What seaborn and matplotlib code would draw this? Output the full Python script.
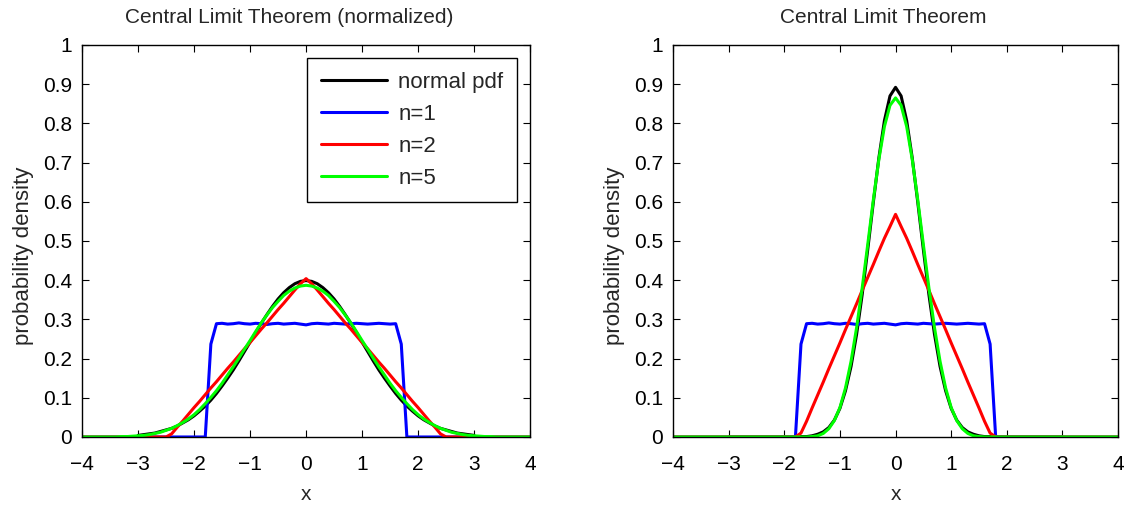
import numpy as np
import pandas as pd
import matplotlib
matplotlib.use('Agg')
import matplotlib.pyplot as plt
import seaborn as sns

# sample grids (step 0.1)
x_grid = np.round(np.arange(-40, 41) / 10, 1)
x_normal = np.round(np.arange(-30, 31) / 10, 1)

series_names = ['normal pdf', 'n=1', 'n=2', 'n=5']
series_colors = ['#000000', '#0000ff', '#ff0000', '#00ff00']
x_ticks = [-4, -3, -2, -1, 0, 1, 2, 3, 4]
y_ticks = [0, 0.1, 0.2, 0.3, 0.4, 0.5, 0.6, 0.7, 0.8, 0.9, 1]
y_tick_labels = ['0', '0.1', '0.2', '0.3', '0.4', '0.5', '0.6', '0.7', '0.8', '0.9', '1']

# ---- left panel: normalized ----
left_normal = [0.004, 0.006, 0.008, 0.010, 0.014, 0.018, 0.022, 0.028, 0.036, 0.044,
               0.054, 0.066, 0.079, 0.094, 0.111, 0.130, 0.150, 0.171, 0.194, 0.218,
               0.242, 0.266, 0.290, 0.312, 0.333, 0.352, 0.368, 0.381, 0.391, 0.397,
               0.399,
               0.397, 0.391, 0.381, 0.368, 0.352, 0.333, 0.312, 0.290, 0.266, 0.242,
               0.218, 0.194, 0.171, 0.150, 0.130, 0.111, 0.094, 0.079, 0.066, 0.054,
               0.044, 0.036, 0.028, 0.022, 0.018, 0.014, 0.010, 0.008, 0.006, 0.004]

left_n1 = [0, 0, 0, 0, 0, 0, 0, 0, 0, 0, 0, 0, 0, 0, 0, 0, 0, 0, 0, 0, 0, 0, 0,
           0.237,
           0.289, 0.290, 0.288, 0.289, 0.291, 0.289, 0.288, 0.290, 0.289, 0.287,
           0.289, 0.290, 0.288, 0.289, 0.290, 0.288, 0.286, 0.289, 0.290, 0.289,
           0.288, 0.290, 0.289, 0.288, 0.289, 0.290, 0.289, 0.288, 0.289, 0.290,
           0.289, 0.288, 0.289,
           0.237,
           0, 0, 0, 0, 0, 0, 0, 0, 0, 0, 0, 0, 0, 0, 0, 0, 0, 0, 0, 0, 0, 0, 0]

left_n2 = [0, 0, 0, 0, 0, 0, 0, 0, 0, 0, 0, 0, 0, 0, 0, 0,
           0.008, 0.025, 0.041, 0.058, 0.075, 0.091, 0.108, 0.125, 0.141, 0.158,
           0.175, 0.191, 0.208, 0.225, 0.241, 0.258, 0.275, 0.291, 0.308, 0.325,
           0.341, 0.358, 0.375, 0.391,
           0.404,
           0.391, 0.375, 0.358, 0.341, 0.325, 0.308, 0.291, 0.275, 0.258, 0.241,
           0.225, 0.208, 0.191, 0.175, 0.158, 0.141, 0.125, 0.108, 0.091, 0.075,
           0.058, 0.041, 0.025, 0.008,
           0, 0, 0, 0, 0, 0, 0, 0, 0, 0, 0, 0, 0, 0, 0, 0]

left_n5 = [0, 0, 0, 0, 0, 0, 0, 0.001, 0.001, 0.002,
           0.003, 0.004, 0.006, 0.009, 0.012, 0.017, 0.022, 0.029, 0.037, 0.046,
           0.057, 0.070, 0.085, 0.101, 0.118, 0.137, 0.158, 0.179, 0.201, 0.224,
           0.246, 0.269, 0.291, 0.311, 0.330, 0.346, 0.361, 0.372, 0.380, 0.385,
           0.387,
           0.385, 0.380, 0.372, 0.361, 0.346, 0.330, 0.311, 0.291, 0.269, 0.246,
           0.224, 0.201, 0.179, 0.158, 0.137, 0.118, 0.101, 0.085, 0.070, 0.057,
           0.046, 0.037, 0.029, 0.022, 0.017, 0.012, 0.009, 0.006, 0.004, 0.003,
           0.002, 0.001, 0.001, 0, 0, 0, 0, 0, 0, 0]

# ---- right panel: mean of n samples ----
right_normal = [0, 0, 0, 0, 0, 0, 0, 0, 0, 0, 0,
                0, 0, 0.001, 0.001, 0.003, 0.007, 0.013, 0.024, 0.043, 0.073,
                0.118, 0.180, 0.262, 0.363, 0.478, 0.598, 0.712, 0.807, 0.870,
                0.892,
                0.870, 0.807, 0.712, 0.598, 0.478, 0.363, 0.262, 0.180, 0.118, 0.073,
                0.043, 0.024, 0.013, 0.007, 0.003, 0.001, 0.001, 0, 0,
                0, 0, 0, 0, 0, 0, 0, 0, 0, 0, 0]

right_n1 = left_n1

right_n2 = [0, 0, 0, 0, 0, 0, 0, 0, 0, 0, 0, 0, 0, 0, 0, 0, 0, 0, 0, 0, 0, 0, 0,
            0.010, 0.040, 0.074, 0.107, 0.140, 0.174, 0.207, 0.240, 0.274, 0.307,
            0.340, 0.374, 0.407, 0.440, 0.474, 0.507, 0.537,
            0.568,
            0.537, 0.507, 0.474, 0.440, 0.407, 0.374, 0.340, 0.307, 0.274, 0.240,
            0.207, 0.174, 0.140, 0.107, 0.074, 0.040, 0.010,
            0, 0, 0, 0, 0, 0, 0, 0, 0, 0, 0, 0, 0, 0, 0, 0, 0, 0, 0, 0, 0, 0, 0]

right_n5 = [0, 0, 0, 0, 0, 0, 0, 0, 0, 0, 0, 0, 0, 0, 0, 0, 0, 0, 0, 0, 0, 0, 0, 0,
            0, 0.001, 0.003, 0.009, 0.021, 0.042, 0.075, 0.125, 0.193, 0.279,
            0.380, 0.491, 0.604, 0.708, 0.792, 0.846,
            0.865,
            0.846, 0.792, 0.708, 0.604, 0.491, 0.380, 0.279, 0.193, 0.125, 0.075,
            0.042, 0.021, 0.009, 0.003, 0.001, 0,
            0, 0, 0, 0, 0, 0, 0, 0, 0, 0, 0, 0, 0, 0, 0, 0, 0, 0, 0, 0, 0, 0, 0, 0]


def montar_df(normal, n1, n2, n5):
    partes = []
    for nome, xs, ys in [('normal pdf', x_normal, normal), ('n=1', x_grid, n1),
                         ('n=2', x_grid, n2), ('n=5', x_grid, n5)]:
        partes.append(pd.DataFrame({'x': xs, 'density': ys, 'series': nome}))
    return pd.concat(partes, ignore_index=True)


def desenhar_painel(ax, df, titulo, titulo_x, legenda):
    sns.lineplot(data=df, x='x', y='density', hue='series', hue_order=series_names,
                 palette=dict(zip(series_names, series_colors)), estimator=None,
                 sort=True, linewidth=2.2, ax=ax, legend=legenda)
    ax.set_xlim(-4, 4)
    ax.set_ylim(0, 1)
    ax.set_xticks(x_ticks)
    ax.set_yticks(y_ticks)
    ax.set_yticklabels(y_tick_labels)
    ax.tick_params(direction='in', top=True, right=True, length=5, width=0.8,
                   labelsize=15, colors='black')
    ax.tick_params(axis='x', pad=13)
    ax.tick_params(axis='y', pad=7)
    for s in ax.spines.values():
        s.set_visible(True)
        s.set_color('black')
        s.set_linewidth(1.0)
    ax.set_title(titulo, fontsize=15, x=titulo_x, pad=16)
    ax.set_xlabel('x', fontsize=15, labelpad=8)
    ax.set_ylabel('probability density', fontsize=16)
    ax.yaxis.set_label_coords(-0.108, 0.462)
    if legenda:
        leg = ax.legend(loc='upper right', fontsize=16, frameon=True, fancybox=False,
                        edgecolor='black', framealpha=1, handlelength=3.0,
                        labelspacing=0.5, borderaxespad=0.6, borderpad=0.6,
                        handletextpad=0.5)
        leg.get_frame().set_linewidth(1.0)


sns.set_style('ticks')
plt.rcParams['font.family'] = ['Liberation Sans', 'DejaVu Sans']

fig = plt.figure(figsize=(11.24, 5.05), dpi=100)
ax1 = fig.add_axes([0.0730, 0.1347, 0.3986, 0.7762])
ax2 = fig.add_axes([0.5988, 0.1347, 0.3959, 0.7762])

desenhar_painel(ax1, montar_df(left_normal, left_n1, left_n2, left_n5),
                'Central Limit Theorem (normalized)', 0.463, True)
desenhar_painel(ax2, montar_df(right_normal, right_n1, right_n2, right_n5),
                'Central Limit Theorem', 0.473, False)

fig.savefig('out.png', dpi=100)
plt.close(fig)
